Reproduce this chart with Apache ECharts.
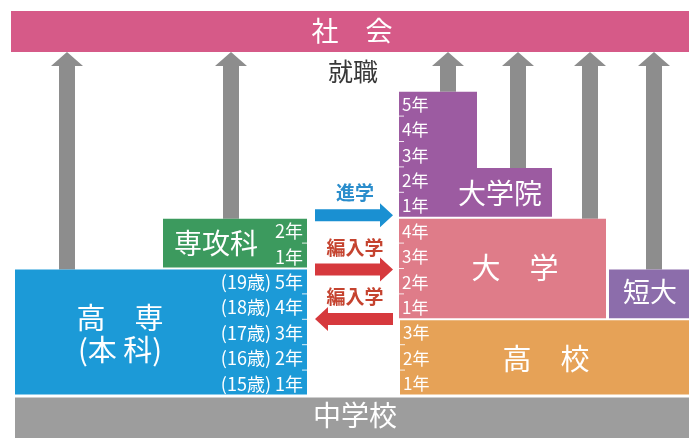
<!DOCTYPE html>
<html><head><meta charset="utf-8">
<script src="https://cdn.jsdelivr.net/npm/echarts@6/dist/echarts.min.js"></script>
<style>html,body{margin:0;padding:0;background:#fff}#c{width:689px;height:438px}</style>
</head><body><div id="c"></div>
<script>
// ---------------- data ----------------
const schools = ['高専', '専攻科', '高校', '大学', '短大', '大学院'];
const startYear = [0, 5, 0, 3, 3, 7];          // level (years after 中学校) where each school starts
const durationYears = [5, 2, 3, 4, 2, 5];      // years of study
const masterYears = 2;                          // 大学院: first (wide) part
const kosenAges = ['(15歳)', '(16歳)', '(17歳)', '(18歳)', '(19歳)'];
const pathLabels = ['進学', '編入学', '編入学'];
const pathYear = [7.1, 4.96, 3.01];
const pathDir = [1, 1, -1];                     // 1 = to the right, -1 = to the left
const exitFrom = ['高専', '専攻科', '大学院', '大学院', '大学', '短大'];
const exitUsesMaster = [false, false, false, true, false, false];
const topLabel = '社　会';
const exitLabel = '就職';
const baseLabel = '中学校';

// ---------------- layout / style ----------------
const FONT = '"Noto Sans CJK JP", "Noto Sans", sans-serif';
const WHITE = '#ffffff';
const blockX = { '高専': [15, 307], '専攻科': [163, 307], '高校': [400, 689], '大学': [399, 606], '短大': [609, 689], '大学院': [399, 552] };
const doctorX1 = 477;
const blockColor = { '高専': '#1c9ad7', '専攻科': '#3c9a5e', '高校': '#e6a257', '大学': '#df7c89', '短大': '#8c6dab', '大学院': '#9c5ba1' };
const nameText = { '高専': '高　専\n(本 科)', '専攻科': '専攻科', '高校': '高　校', '大学': '大　学', '短大': '短大', '大学院': '大学院' };
const nameAt = { '高専': [120, 2.42], '専攻科': [216, 6.0], '高校': [546, 1.45], '大学': [515, 5.02], '短大': [650, 4.1], '大学院': [500, 7.97] };
const nameSize = { '高専': 29, '専攻科': 28, '高校': 29, '大学': 29, '短大': 27, '大学院': 28 };
const labelSide = { '高専': 'right', '専攻科': 'right', '高校': 'left', '大学': 'left', '大学院': 'left' };
const exitX = [67, 231, 448, 518, 590, 654];
const societyX = [11, 689], societyY = [13.52, 15.14];
const baseX = [15, 689], baseY = [-1.75, -0.08];
const pathX = [315, 393];

const chart = echarts.init(document.getElementById('c'), null, { renderer: 'canvas' });

function txt(x, y, text, size, fill, align, weight) {
  return {
    type: 'text',
    style: { text: text, x: x, y: y, fill: fill, fontSize: size, fontFamily: FONT,
      fontWeight: weight || 'normal', align: align || 'center', verticalAlign: 'middle' }
  };
}

function renderBlock(params, api) {
  const i = api.value(0);
  const s = schools[i];
  const y0 = startYear[i], y1 = startYear[i] + durationYears[i];
  const x0 = blockX[s][0], x1 = blockX[s][1];
  const c = (x, y) => api.coord([x, y]);
  const children = [];
  if (s === '大学院') {
    const ym = y0 + masterYears;
    const pts = [c(x0, y0), c(x1, y0), c(x1, ym), c(doctorX1, ym), c(doctorX1, y1), c(x0, y1)];
    pts[0][1] -= 1; pts[1][1] -= 1;
    for (let k = 2; k < 6; k++) pts[k][1] += 1;
    children.push({ type: 'polygon', shape: { points: pts }, style: { fill: blockColor[s] } });
  } else {
    const a = c(x0, y1), b = c(x1, y0);
    children.push({ type: 'rect', shape: { x: a[0], y: a[1] + 1, width: b[0] - a[0], height: b[1] - a[1] - 2 }, style: { fill: blockColor[s] } });
  }
  // name
  const np = c(nameAt[s][0], nameAt[s][1]);
  const nt = txt(np[0], np[1], nameText[s], nameSize[s], WHITE, 'center');
  nt.style.lineHeight = 32;
  children.push(nt);
  // year labels and ticks
  const side = labelSide[s];
  if (side) {
    for (let k = 0; k < durationYears[i]; k++) {
      const label = (s === '高専' ? kosenAges[k] + ' ' : '') + (k + 1) + '年';
      if (side === 'right') {
        const p = c(x1 - 4, y0 + k + 0.5);
        children.push(txt(p[0], p[1] + 1, label, 18, WHITE, 'right'));
      } else {
        const p = c(x0 + 3, y0 + k + 0.5);
        children.push(txt(p[0], p[1] + 1, label, 17, WHITE, 'left'));
      }
    }
    for (let k = 1; k < durationYears[i]; k++) {
      const p = c(side === 'right' ? x1 : x0, y0 + k);
      const dx = side === 'right' ? -5 : 5;
      children.push({ type: 'line', shape: { x1: p[0], y1: p[1], x2: p[0] + dx, y2: p[1] }, style: { stroke: 'rgba(255,255,255,0.85)', lineWidth: 1 } });
    }
  }
  return { type: 'group', children: children };
}

function renderExit(params, api) {
  const i = api.value(0);
  const si = schools.indexOf(exitFrom[i]);
  const fromY = startYear[si] + (exitUsesMaster[i] ? masterYears : durationYears[si]);
  const b = api.coord([exitX[i], fromY]);
  const t = api.coord([exitX[i], societyY[0]]);
  const bx = b[0], by = b[1] + 1, ty = t[1];
  const hw = 8, hh = 16, hl = 14;
  return { type: 'polygon', shape: { points: [[bx - hw, by], [bx - hw, ty + hl], [bx - hh, ty + hl], [bx, ty], [bx + hh, ty + hl], [bx + hw, ty + hl], [bx + hw, by]] }, style: { fill: '#8d8d8d' } };
}

function renderPath(params, api) {
  const i = api.value(0);
  const a = api.coord([pathX[0], pathYear[i]]);
  const b = api.coord([pathX[1], pathYear[i]]);
  const cy = a[1];
  const sh = 6, hh = 12, hl = 13;
  const L = a[0], R = b[0];
  let pts;
  if (pathDir[i] > 0) {
    pts = [[L, cy - sh], [R - hl, cy - sh], [R - hl, cy - hh], [R, cy], [R - hl, cy + hh], [R - hl, cy + sh], [L, cy + sh]];
  } else {
    pts = [[R, cy - sh], [L + hl, cy - sh], [L + hl, cy - hh], [L, cy], [L + hl, cy + hh], [L + hl, cy + sh], [R, cy + sh]];
  }
  const arrowColor = i === 0 ? '#1a90d2' : '#d6393d';
  const textColor = i === 0 ? '#2a8dcc' : '#c5432f';
  return { type: 'group', children: [
    { type: 'polygon', shape: { points: pts }, style: { fill: arrowColor } },
    txt((L + R) / 2 + 1, cy - 22, pathLabels[i], 19, textColor, 'center', 'bold')
  ] };
}

function renderBars(params, api) {
  const i = api.value(0);
  const X = i === 0 ? societyX : baseX;
  const Y = i === 0 ? societyY : baseY;
  const a = api.coord([X[0], Y[1]]), b = api.coord([X[1], Y[0]]);
  const children = [
    { type: 'rect', shape: { x: a[0], y: a[1], width: b[0] - a[0], height: b[1] - a[1] }, style: { fill: i === 0 ? '#d65a88' : '#9d9d9d' } }
  ];
  if (i === 0) {
    const p = api.coord([352, 14.35]);
    children.push(txt(p[0], p[1], topLabel, 27, WHITE, 'center'));
    const q = api.coord([353, 12.74]);
    children.push(txt(q[0], q[1], exitLabel, 25, '#383838', 'center'));
  } else {
    const p = api.coord([355, -0.78]);
    children.push(txt(p[0], p[1], baseLabel, 28, WHITE, 'center'));
  }
  return { type: 'group', children: children };
}

chart.setOption({
  animation: false,
  backgroundColor: '#ffffff',
  grid: { left: 0, right: 0, top: 14.5, bottom: 42.5 },
  xAxis: { type: 'value', min: 0, max: 689, show: false },
  yAxis: { type: 'value', min: 0, max: 15, show: false },
  series: [
    { type: 'custom', clip: false, renderItem: renderBars, data: [[0], [1]] },
    { type: 'custom', clip: false, renderItem: renderExit, data: exitFrom.map((s, i) => [i]) },
    { type: 'custom', clip: false, renderItem: renderBlock, data: schools.map((s, i) => [i]) },
    { type: 'custom', clip: false, renderItem: renderPath, data: pathLabels.map((s, i) => [i]) }
  ]
});
</script>
</body></html>
